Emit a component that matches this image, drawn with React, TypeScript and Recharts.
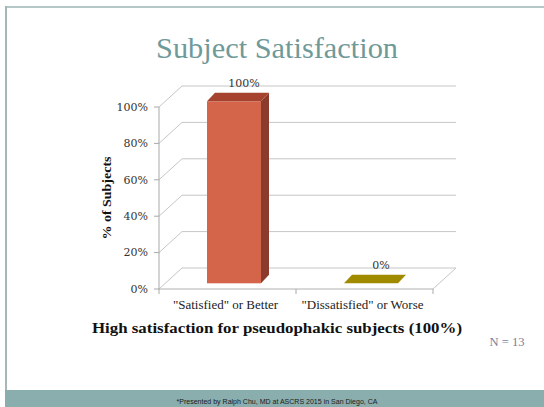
import React from 'react';
import {
  Bar,
  BarChart,
  CartesianGrid,
  LabelList,
  XAxis,
  YAxis,
} from 'recharts';

const categories = ['"Satisfied" or Better', '"Dissatisfied" or Worse'];
const subjectPct = [100, 0];
const yTicks = [0, 20, 40, 60, 80, 100];

const frontColors = ['#d4654b', '#a08b00'];
const topColors = ['#a5432f', '#a08b00'];
const sideColors = ['#8a3b2b', '#7d6c00'];

// 3D look: back wall offset and bar depth
const WALL_DX = 23;
const WALL_DY = -21;
const BAR_OX = 6;
const BAR_OY = -5.7;
const BAR_DX = 8;
const BAR_DY = -8.5;

const GRID = '#c6c6c6';
const SERIF = '"Liberation Serif", "DejaVu Serif", serif';
const NUM_FONT = '"DejaVu Serif", serif';

const data = categories.map((name, i) => ({ name, pct: subjectPct[i] }));

function Box3D(props: any) {
  const { x, y, width, height, index } = props;
  const fx = x + BAR_OX;
  const fy = y + BAR_OY;
  const top = `${fx},${fy} ${fx + BAR_DX},${fy + BAR_DY} ${fx + width + BAR_DX},${fy + BAR_DY} ${fx + width},${fy}`;
  const side = `${fx + width},${fy} ${fx + width + BAR_DX},${fy + BAR_DY} ${fx + width + BAR_DX},${fy + height + BAR_DY} ${fx + width},${fy + height}`;
  return (
    <g>
      {height > 0 && <rect x={fx} y={fy} width={width} height={height} fill={frontColors[index]} />}
      {height > 0 && <polygon points={side} fill={sideColors[index]} />}
      <polygon points={top} fill={topColors[index]} />
    </g>
  );
}

function GridLine(p: any) {
  const { x1, y1, x2 } = p;
  return (
    <polyline
      key={`g-${p.index}`}
      points={`${x1},${y1} ${x1 + WALL_DX},${y1 + WALL_DY} ${x2 + WALL_DX},${y1 + WALL_DY}`}
      fill="none"
      stroke={GRID}
      strokeWidth={1}
    />
  );
}

function CategoryTick(props: any) {
  const { x, y, payload, index, width, visibleTicksCount } = props;
  const half = width / (visibleTicksCount || 2) / 2;
  const last = index === (visibleTicksCount || 2) - 1;
  return (
    <g>
      <line x1={x - half} y1={y} x2={x - half} y2={y + 5} stroke="#a8a8a8" />
      {last && <line x1={x + half} y1={y} x2={x + half} y2={y + 5} stroke="#a8a8a8" />}
      {last && (
        <line x1={x + half} y1={y} x2={x + half + WALL_DX} y2={y + WALL_DY} stroke={GRID} />
      )}
      <text x={x - 2} y={y + 20} textAnchor="middle" fontFamily={SERIF} fontSize={13} fill="#222">
        {payload.value}
      </text>
    </g>
  );
}

function PctTick(props: any) {
  const { x, y, payload } = props;
  return (
    <g>
      <line x1={x - 5} y1={y} x2={x} y2={y} stroke="#a8a8a8" />
      <text x={x - 11} y={y} dy="0.35em" textAnchor="end" fontFamily={NUM_FONT} fontSize={11} fill="#333">
        {`${payload.value}%`}
      </text>
    </g>
  );
}

function ValueLabel(props: any) {
  const { x, y, width, value } = props;
  const cx = x + width / 2 + BAR_OX + BAR_DX / 2 + 6;
  const cy = y + BAR_OY + BAR_DY - 10;
  return (
    <text x={cx} y={cy} dy="0.35em" textAnchor="middle" fontFamily={NUM_FONT} fontSize={11} fill="#333">
      {`${value}%`}
    </text>
  );
}

export default function App() {
  return (
    <div
      style={{
        position: 'absolute',
        left: 0,
        top: 0,
        width: 544,
        height: 407,
        background: '#fff',
        overflow: 'hidden',
      }}
    >
      <div style={{ position: 'absolute', left: 5, top: 6, width: 539, height: 2, background: '#b5c8c7' }} />
      <div style={{ position: 'absolute', left: 5, top: 6, width: 2, height: 401, background: '#a5b7b7' }} />
      <div style={{ position: 'absolute', left: 5, top: 390, width: 539, height: 17, background: '#8aaeae' }} />

      <div style={{ position: 'absolute', left: 0, top: 0 }}>
        <BarChart
          width={544}
          height={407}
          data={data}
          margin={{ top: 107, right: 111, bottom: 88, left: 119 }}
        >
          <CartesianGrid vertical={false} horizontal={GridLine} />
          <XAxis
            dataKey="name"
            height={30}
            interval={0}
            tickSize={0}
            tickMargin={0}
            tickLine={false}
            axisLine={{ stroke: '#b0b0b0' }}
            tick={<CategoryTick />}
          />
          <YAxis
            width={40}
            domain={[0, 100]}
            ticks={yTicks}
            tickSize={0}
            tickMargin={0}
            tickLine={false}
            axisLine={{ stroke: '#a8a8a8' }}
            tick={<PctTick />}
          />
          <Bar dataKey="pct" barSize={54} shape={<Box3D />} isAnimationActive={false}>
            <LabelList dataKey="pct" content={<ValueLabel />} />
          </Bar>
        </BarChart>
      </div>

      <svg
        width={544}
        height={407}
        style={{ position: 'absolute', left: 0, top: 0, pointerEvents: 'none' }}
      >
        <text x={277} y={58} textAnchor="middle" fontFamily={SERIF} fontSize={30} fill="#6f9a9a" textLength={242} lengthAdjust="spacingAndGlyphs">
          Subject Satisfaction
        </text>
        <text
          x={0}
          y={0}
          transform="translate(111,198) rotate(-90)"
          textAnchor="middle"
          fontFamily={SERIF}
          fontWeight="bold"
          fontSize={13}
          fill="#111"
          textLength={83}
          lengthAdjust="spacingAndGlyphs"
        >
          % of Subjects
        </text>
        <text x={277} y={333} textAnchor="middle" fontFamily={SERIF} fontWeight="bold" fontSize={15.5} fill="#111" textLength={370} lengthAdjust="spacingAndGlyphs">
          High satisfaction for pseudophakic subjects (100%)
        </text>
        <text x={507} y={346} textAnchor="middle" fontFamily={SERIF} fontSize={13} fill="#7a7e9c" textLength={35} lengthAdjust="spacingAndGlyphs">
          N = 13
        </text>
        <text x={277} y={404} textAnchor="middle" fontFamily='"Liberation Sans", Arial, sans-serif' fontSize={7} fill="#1a1a1a" textLength={201} lengthAdjust="spacingAndGlyphs">
          *Presented by Ralph Chu, MD at ASCRS 2015 in San Diego, CA
        </text>
      </svg>
    </div>
  );
}
